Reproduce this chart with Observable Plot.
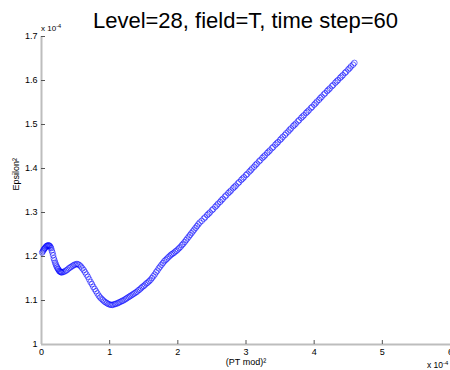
<!DOCTYPE html>
<html>
<head>
<meta charset="utf-8">
<script src="https://cdn.jsdelivr.net/npm/d3@7"></script>
<script src="https://cdn.jsdelivr.net/npm/@observablehq/plot@0.6"></script>
<style>
  html, body { margin: 0; padding: 0; background: #fff; }
  #wrap { position: relative; width: 450px; height: 370px; font-family: "Liberation Sans", Arial, Helvetica, sans-serif; color: #000; }
  #wrap svg { position: absolute; left: 0; top: 0; }
  .abs { position: absolute; white-space: nowrap; line-height: 1; }
  sup { font-size: 70%; vertical-align: 0; position: relative; top: -0.55em; }
</style>
</head>
<body>
<div id="wrap"></div>
<script>
const titleText = "Level=28, field=T, time step=60";
const xLabel = "(PT mod)²";
const yLabel = "Epsilon²";
const xTicks = [0, 1, 2, 3, 4, 5, 6];
const yTicks = [1, 1.1, 1.2, 1.3, 1.4, 1.5, 1.6, 1.7];

// (PT mod)^2 values, units of 1e-4
const ptMod2 = [
  0.01,0.02,0.03,0.04,0.05,0.06,0.07,0.08,0.09,0.10,
  0.11,0.12,0.13,0.14,0.15,0.16,0.17,0.18,0.19,0.20,
  0.21,0.22,0.23,0.24,0.25,0.26,0.27,0.28,0.29,0.30,
  0.32,0.34,0.36,0.38,0.40,0.42,0.44,0.46,0.48,0.50,
  0.52,0.54,0.56,0.58,0.60,0.62,0.64,0.66,0.68,0.70,
  0.72,0.74,0.76,0.78,0.80,0.82,0.84,0.86,0.88,0.90,
  0.92,0.94,0.96,0.98,1.00,1.02,1.04,
  1.06,1.08,1.10,1.12,1.14,1.16,1.18,1.20,1.22,1.24,
  1.26,1.28,1.30,1.32,1.34,1.36,1.38,1.40,1.42,1.44,
  1.46,1.48,1.50,1.52,1.54,1.56,1.58,1.60,1.62,1.64,
  1.66,1.68,1.70,1.72,1.74,1.76,1.78,1.80,1.82,1.84,
  1.86,1.88,1.90,1.92,1.94,1.96,1.98,2.00,2.02,2.04,
  2.06,2.08,2.10,2.12,2.14,2.16,2.18,2.20,2.22,2.24,
  2.26,2.28,2.30,2.32,
  2.35,2.38,2.40,2.43,2.45,2.47,2.50,2.52,2.55,2.57,
  2.59,2.62,2.64,2.66,2.69,2.71,2.74,2.76,2.78,2.81,
  2.83,2.85,2.88,2.90,2.93,2.95,2.97,3.00,3.02,3.05,
  3.07,3.09,3.12,3.14,3.16,3.19,3.21,3.24,3.26,3.28,
  3.31,3.33,3.35,3.38,3.40,3.43,3.45,3.47,3.50,3.52,
  3.54,3.57,3.59,3.62,3.64,3.66,3.69,3.71,3.73,3.76,
  3.78,3.81,3.83,3.85,3.88,3.90,3.92,3.95,3.97,4.00,
  4.02,4.04,4.07,4.09,4.11,4.14,4.16,4.19,4.21,4.23,
  4.26,4.28,4.31,4.33,4.35,4.38,4.40,4.42,4.45,4.47,
  4.50,4.52,4.54,4.57,4.59
];
// Epsilon^2 values, units of 1e-4
const epsilon2 = [
  1.209,1.212,1.215,1.217,1.219,1.221,1.223,1.224,1.225,1.225,
  1.225,1.224,1.222,1.219,1.214,1.209,1.203,1.196,1.191,1.186,
  1.182,1.178,1.175,1.172,1.170,1.167,1.166,1.165,1.164,1.164,
  1.165,1.166,1.168,1.170,1.173,1.175,1.177,1.179,1.181,1.182,
  1.183,1.182,1.180,1.177,1.173,1.169,1.164,1.159,1.154,1.148,
  1.142,1.137,1.131,1.126,1.121,1.116,1.111,1.107,1.104,1.101,
  1.098,1.096,1.094,1.092,1.091,1.090,1.090,
  1.091,1.092,1.093,1.094,1.096,1.097,1.099,1.100,1.102,1.104,
  1.106,1.108,1.110,1.112,1.114,1.116,1.118,1.120,1.123,1.125,
  1.128,1.131,1.133,1.136,1.139,1.141,1.144,1.147,1.151,1.155,
  1.159,1.164,1.168,1.173,1.177,1.181,1.185,1.189,1.192,1.195,
  1.198,1.201,1.204,1.206,1.208,1.211,1.213,1.216,1.219,1.222,
  1.226,1.229,1.233,1.237,1.241,1.245,1.249,1.253,1.257,1.261,
  1.265,1.269,1.273,1.277,
  1.281,1.286,1.289,1.294,1.297,1.300,1.305,1.308,1.313,1.316,
  1.320,1.324,1.328,1.331,1.336,1.339,1.344,1.347,1.350,1.355,
  1.358,1.361,1.366,1.369,1.374,1.377,1.380,1.385,1.388,1.393,
  1.396,1.400,1.404,1.408,1.411,1.416,1.419,1.424,1.427,1.430,
  1.435,1.438,1.441,1.446,1.449,1.454,1.457,1.460,1.465,1.468,
  1.472,1.476,1.480,1.484,1.488,1.491,1.496,1.499,1.502,1.507,
  1.510,1.515,1.518,1.521,1.526,1.529,1.532,1.537,1.540,1.545,
  1.548,1.552,1.556,1.560,1.563,1.568,1.571,1.576,1.579,1.582,
  1.587,1.590,1.595,1.598,1.601,1.606,1.609,1.612,1.617,1.620,
  1.625,1.628,1.632,1.636,1.640
];

const n = Math.min(ptMod2.length, epsilon2.length);
const data = ptMod2.slice(0, n).map((x, i) => ({x, y: epsilon2[i]}));

const W = 450, H = 370, mL = 41, mR = 0, mT = 36, mB = 26;
const plotW = W - mL - mR, plotH = H - mT - mB;
const font = '"Liberation Sans", Arial, Helvetica, sans-serif';

const chart = Plot.plot({
  width: W, height: H,
  marginLeft: mL, marginRight: mR, marginTop: mT, marginBottom: mB,
  style: {fontFamily: font, fontSize: "9px", color: "#000", background: "#fff", overflow: "visible"},
  x: {domain: [0, 6]},
  y: {domain: [1, 1.7]},
  marks: [
    Plot.ruleX([0], {stroke: "#bdbdbd", strokeWidth: 2}),
    Plot.ruleY([1], {stroke: "#bdbdbd", strokeWidth: 2}),
    Plot.ruleX(xTicks.slice(1), {stroke: "#555", strokeWidth: 1, insetTop: plotH - 4}),
    Plot.ruleY(yTicks.slice(1), {stroke: "#555", strokeWidth: 1, insetRight: plotW - 4}),
    Plot.axisX(xTicks, {tickSize: 0, tickPadding: 4, label: null, tickFormat: d => String(d), fill: "#000"}),
    Plot.axisY(yTicks, {tickSize: 0, tickPadding: 4, label: null, tickFormat: d => String(+d.toFixed(1)), fill: "#000"}),
    Plot.text([yLabel], {frameAnchor: "left", rotate: -90, dx: -25, fontSize: 9, fill: "#000"}),
    Plot.text([xLabel], {frameAnchor: "bottom", dy: 20, fontSize: 9, fill: "#000"}),
    Plot.dot(data, {x: "x", y: "y", r: 2.8, stroke: "#0000ff", strokeWidth: 0.55, fill: "none"})
  ]
});

const wrap = document.getElementById("wrap");
wrap.appendChild(chart);

const title = document.createElement("div");
title.className = "abs";
title.style.cssText = "left:41px;width:409px;top:10px;font-size:22px;text-align:center;";
title.textContent = titleText;
wrap.appendChild(title);

const expTop = document.createElement("div");
expTop.className = "abs";
expTop.style.cssText = "left:41px;top:25px;font-size:8px;";
expTop.innerHTML = "x 10<sup>-4</sup>";
wrap.appendChild(expTop);

const expBottom = document.createElement("div");
expBottom.className = "abs";
expBottom.style.cssText = "left:427px;top:361px;font-size:8.5px;";
expBottom.innerHTML = "x 10<sup>-4</sup>";
wrap.appendChild(expBottom);
</script>
</body>
</html>
